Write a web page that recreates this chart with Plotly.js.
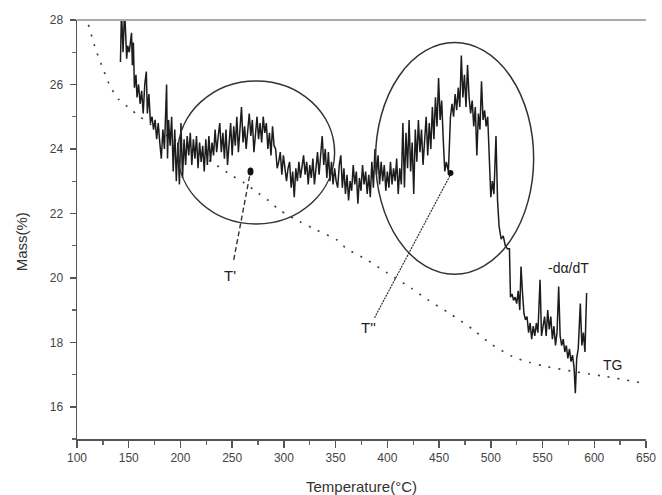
<!DOCTYPE html>
<html>
<head>
<meta charset="utf-8">
<script src="https://cdn.plot.ly/plotly-3.0.1.min.js"></script>
<style>html,body{margin:0;padding:0;background:#fff}#chart{width:662px;height:495px}</style>
</head>
<body>
<div id="chart"></div>
<script>
// TG curve (dotted)
var tgT = [111,118,125,132,140,150,160,174,190,210,230,249,262,275,285,296,315,331,351,360,380,400,423,439,460,483,500,521,537,553,579,611,648];
var tgM = [27.85,27.1,26.5,25.95,25.55,25.28,25.02,24.7,24.35,24.0,23.6,23.19,22.94,22.63,22.4,22.1,21.75,21.49,21.18,20.92,20.56,20.15,19.68,19.32,18.9,18.39,17.95,17.56,17.38,17.25,17.1,16.94,16.73];

// -da/dT curve (noisy)
var dtT = [142,143,144.5,146,147,148,149,150.5,152.7,153.5,154.5,155.5,157,158,159.5,161,162.5,164,165.5,167,168,169.5,171,172.5,174,175.5,177,178.5,180,181.5,183,184.5,186.6,187.5,188.5,190,191.5,193,194.5,196,197.5,199,200.5,202,203.5,
205,206.5,208,209.5,211,212.5,214,215.5,217,218.5,220,221.5,223,224.5,226,227.5,229,230.5,232,233.5,235,236.5,238,239.5,241,242.5,244,245.5,247,248.5,
250,251.5,253,254.5,256,257.5,259,260.5,262,263.5,265,266.5,268,269.5,271,272.5,274,275.5,277,278.5,280,281.5,283,284.5,286,287.5,289,290.5,292,293.5,295,296.5,298,299.5,
301,302.5,304,305.5,307,308.5,310,311.5,313,314.5,316,317.5,319,320.5,322,323.5,325,326.5,328,329.5,331,332.5,334,335.5,337,338.5,340,341.5,343,344.5,346,347.5,349,
350.5,352,353.5,355,356.5,358,359.5,361,362.5,364,365.5,367,368.5,370,371.5,373,374.5,376,377.5,379,380.5,382,383.5,385,386.5,388,389.5,391,392.5,394,395.5,397,398.5,
400,401.5,403,404.5,406,407.5,409,410.5,412,413.5,415,416.5,418,419.5,421,422.5,424,425.5,427,428.5,430,431.5,433,434.5,436,437.5,439,440.5,442,443.5,445,446.5,448,449.5,
451,452.5,454,455.5,457,459,461,462.5,464,465.5,467,468.5,470,471.5,473,474.5,476,477.5,479,480.5,482,483.5,485,486.5,488,489.5,491,492.5,494,495.5,497,498.5,
500,501.5,503,505,506.5,508,510,512,514,516,518,519,520.5,522,523.5,525,526.5,528,529.2,530.5,532,533.5,535,536.5,538,539.5,541,542.5,544,545.5,547.6,549,
550.5,552,553.5,555,556.5,558,559.5,561,562.5,564,565.6,567,568.5,570,571.5,573,574.5,576,577.5,579,580.5,581.7,583,584.5,586.5,588,589.5,591,592.6];
var dtM = [26.7,28.3,27.0,28.3,27.6,26.8,27.2,27.0,27.6,26.6,27.3,25.9,26.3,25.6,26.0,25.4,25.8,25.1,26.0,26.4,25.1,25.7,24.8,25.0,24.6,24.9,24.3,24.8,24.2,23.7,24.6,24.0,26.0,23.7,24.9,24.1,25.0,23.3,24.6,23.0,24.2,22.9,24.8,23.1,24.3,
23.5,24.4,23.8,24.5,23.5,24.3,23.7,24.4,23.4,24.2,23.6,24.1,23.3,24.3,23.5,24.4,23.6,24.2,23.8,24.6,23.9,24.4,24.8,23.9,24.5,23.7,24.6,23.5,24.3,24.8,
23.8,24.7,24.1,25.0,23.9,24.5,25.3,24.2,24.7,24.0,24.6,25.1,24.4,24.9,23.9,24.6,25.0,24.3,24.8,24.2,25.0,24.5,24.8,24.0,24.5,23.8,24.7,24.1,24.0,23.4,23.6,23.9,23.2,23.8,
23.3,23.0,23.4,23.6,22.8,23.3,22.5,23.4,23.0,23.6,23.1,23.5,23.8,23.2,23.6,22.9,23.5,23.1,23.7,22.9,23.5,23.9,23.2,23.8,24.4,23.5,24.0,23.1,23.9,23.0,23.6,22.9,23.4,
23.0,22.8,23.5,23.8,22.8,23.4,22.6,23.2,22.4,23.0,22.7,23.5,22.9,23.3,22.3,23.1,22.7,23.5,22.9,23.3,22.6,23.2,22.5,23.6,22.8,24.0,23.2,23.8,22.9,23.6,23.0,23.5,22.7,
23.3,22.8,23.6,22.9,23.4,23.0,23.7,22.6,23.4,22.9,24.8,22.8,24.5,23.4,24.9,23.3,24.2,22.6,24.6,23.6,24.9,23.9,24.6,23.5,24.2,25.0,23.8,24.8,24.0,25.3,24.3,25.6,24.7,26.2,
24.9,25.5,24.3,23.3,23.6,23.3,25.0,25.4,25.0,25.7,25.2,25.9,25.3,26.9,25.6,26.3,25.3,26.6,25.6,25.1,25.5,24.7,25.3,23.8,25.1,24.6,26.1,24.9,25.2,24.7,25.0,23.9,
22.5,23.0,22.6,24.4,22.4,21.6,21.2,21.3,21.0,20.9,20.9,19.4,19.5,19.3,19.4,19.2,19.6,19.0,20.35,19.6,18.9,18.7,18.8,18.3,18.6,18.1,18.5,18.2,18.6,18.3,19.94,18.2,
18.5,18.8,18.2,19.0,18.4,18.8,18.1,18.5,17.9,18.3,19.73,18.2,17.9,18.1,17.7,17.9,17.5,17.8,17.4,17.6,17.2,16.42,17.5,17.8,19.2,17.9,18.3,17.7,19.53];

var xTickVals = [100,150,200,250,300,350,400,450,500,550,600,650];
var yTickVals = [16,18,20,22,24,26,28];

var traces = [
  {x: tgT, y: tgM, type: 'scatter', mode: 'lines', line: {color: '#444', width: 1.7, dash: '2px,8px', shape: 'spline', smoothing: 0.8}, hoverinfo: 'skip'},
  {x: dtT, y: dtM, type: 'scatter', mode: 'lines', line: {color: '#1c1c1c', width: 1.5}, hoverinfo: 'skip'}
];

var fnt = 'Liberation Sans, Arial, sans-serif';
var layout = {
  width: 662, height: 495,
  margin: {l: 77, r: 16, t: 20, b: 56},
  paper_bgcolor: '#fff', plot_bgcolor: '#fff',
  showlegend: false,
  font: {family: fnt, color: '#333'},
  xaxis: {
    range: [100, 650], tickvals: xTickVals, ticks: 'outside', ticklen: 7, tickwidth: 1.5, tickcolor: '#555',
    showline: true, linecolor: '#555', linewidth: 1.5, showgrid: false, zeroline: false,
    tickfont: {size: 12, color: '#444', family: fnt},
    minor: {ticks: 'outside', ticklen: 4, tickwidth: 1.3, tickcolor: '#666', dtick: 25, tick0: 100, showgrid: false}
  },
  yaxis: {
    range: [15, 28], tickvals: yTickVals, ticks: 'outside', ticklen: 6, tickwidth: 1.5, tickcolor: '#555',
    showline: true, linecolor: '#555', linewidth: 1.5, showgrid: false, zeroline: false,
    tickfont: {size: 12, color: '#444', family: fnt}, ticklabelstandoff: 4,
    minor: {ticks: 'outside', ticklen: 4, tickwidth: 1.3, tickcolor: '#666', dtick: 1, tick0: 15, showgrid: false}
  },
  shapes: [
    {type: 'line', xref: 'paper', yref: 'paper', x0: 0, x1: 1, y0: 1, y1: 1, line: {color: '#aaa', width: 2}},
    {type: 'circle', xref: 'x', yref: 'y', x0: 197.5, x1: 349, y0: 21.67, y1: 26.11, line: {color: '#333', width: 1.5}},
    {type: 'circle', xref: 'x', yref: 'y', x0: 388.6, x1: 541.4, y0: 20.11, y1: 27.3, line: {color: '#333', width: 1.5}},
    {type: 'line', xref: 'x', yref: 'y', x0: 251.5, y0: 20.56, x1: 267.7, y1: 23.3, line: {color: '#333', width: 1.4, dash: '5px,3px'}},
    {type: 'line', xref: 'x', yref: 'y', x0: 387.6, y0: 18.76, x1: 461, y1: 23.2, line: {color: '#333', width: 1.2, dash: '2px,1px'}},
    {type: 'circle', xref: 'x', yref: 'y', xsizemode: 'pixel', ysizemode: 'pixel', xanchor: 267.7, yanchor: 23.3, x0: -3, x1: 3, y0: -4, y1: 4, fillcolor: '#111', line: {width: 0}},
    {type: 'circle', xref: 'x', yref: 'y', xsizemode: 'pixel', ysizemode: 'pixel', xanchor: 461, yanchor: 23.25, x0: -3, x1: 3, y0: -3, y1: 3, fillcolor: '#111', line: {width: 0}}
  ],
  annotations: [
    {xref: 'x', yref: 'y', x: 247.7, y: 20.06, text: "T'", showarrow: false, font: {size: 15, color: '#222', family: fnt}},
    {xref: 'x', yref: 'y', x: 381.9, y: 18.45, text: "T''", showarrow: false, font: {size: 15, color: '#222', family: fnt}},
    {xref: 'x', yref: 'y', x: 575.5, y: 20.3, text: '-d\u03b1/dT', showarrow: false, font: {size: 14, color: '#222', family: fnt}},
    {xref: 'x', yref: 'y', x: 618, y: 17.3, text: 'TG', showarrow: false, font: {size: 14, color: '#222', family: fnt}},
    {xref: 'paper', yref: 'paper', x: -0.098, y: 0.47, xanchor: 'center', yanchor: 'middle', textangle: -90, text: 'Mass(%)', showarrow: false, font: {size: 15, color: '#333', family: fnt}},
    {xref: 'paper', yref: 'paper', x: 0.5, y: -0.113, xanchor: 'center', yanchor: 'middle', text: 'Temperature(\u00b0C)', showarrow: false, font: {size: 15, color: '#333', family: fnt}}
  ]
};

Plotly.newPlot('chart', traces, layout, {staticPlot: true, displayModeBar: false});
</script>
</body>
</html>
